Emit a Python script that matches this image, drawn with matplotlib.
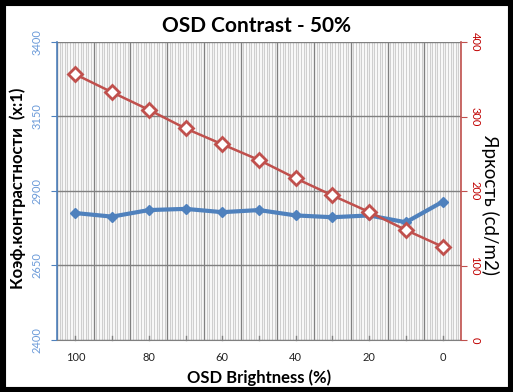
import matplotlib
matplotlib.use("Agg")
import matplotlib.pyplot as plt
from matplotlib.patches import Rectangle
from matplotlib.ticker import MultipleLocator
import numpy as np

plt.rcParams['font.family'] = ['Lato', 'DejaVu Sans']

brightness = [100, 90, 80, 70, 60, 50, 40, 30, 20, 10, 0]
contrast = [2826, 2814, 2836, 2840, 2829, 2836, 2818, 2812, 2818, 2795, 2864]
luminance = [356.6, 332.5, 309, 284, 262.7, 241.6, 217, 194, 171.8, 147.6, 125.2]
left_ticks = [2400, 2650, 2900, 3150, 3400]
right_ticks = [0, 100, 200, 300, 400]

BLUE = '#4F81BD'
BLUE_TXT = '#6C9BD9'
RED = '#C0504D'
RED_TXT = '#C00000'

fig = plt.figure(figsize=(5.13, 3.92), dpi=100)
fig.patch.set_facecolor('white')
ax = fig.add_axes([57/513, 1-340/392, (461-57)/513, (340-42)/392])
ax2 = ax.twinx()

x = np.arange(len(brightness))
ax.set_xlim(-0.5, len(brightness)-0.5)

# background pattern: thin vertical stripes
ax.xaxis.set_minor_locator(MultipleLocator(1/14))
ax.grid(which='minor', axis='x', color='#CFCFCF', linewidth=0.9, zorder=0)
ax.set_xticks(np.arange(-0.5, len(brightness), 1), minor=False)
ax.grid(which='major', axis='both', color='#808080', linewidth=1.0, zorder=0.5)
ax.tick_params(axis='x', which='both', length=0, labelbottom=False)

# category labels (every other)
for i, b in enumerate(brightness):
    if i % 2 == 0:
        ax.text(i, -0.06, str(b), transform=ax.get_xaxis_transform(), ha='center', va='center',
                fontsize=8, color='#222222')
    ax.plot([i, i], [0, 0.012], transform=ax.get_xaxis_transform(), color='#808080', lw=1, clip_on=False, zorder=3)

ax.set_ylim(2400, 3400)
ax.set_yticks(left_ticks)
ax.set_yticklabels([str(t) for t in left_ticks], rotation=90, va='center', ha='center',
                   color=BLUE_TXT, fontsize=8)
ax.tick_params(axis='y', length=4, color=BLUE, pad=10.5)

ax2.set_ylim(0, 400)
ax2.set_yticks(right_ticks)
ax2.set_yticklabels([str(t) for t in right_ticks], rotation=-90, va='center', ha='center',
                    color=RED_TXT, fontsize=8)
ax2.tick_params(axis='y', length=4, color=RED, pad=6)

for s in ['top']:
    ax.spines[s].set_visible(False)
    ax2.spines[s].set_visible(False)
ax.spines['left'].set_color(BLUE)
ax.spines['bottom'].set_color('#808080')
ax.spines['right'].set_visible(False)
ax2.spines['left'].set_visible(False)
ax2.spines['bottom'].set_visible(False)
ax2.spines['right'].set_color(RED)
ax2.spines['right'].set_linewidth(1.2)
ax.spines['left'].set_linewidth(1.2)

ax.plot(x, contrast, color=BLUE, lw=3, marker='D', markersize=5, zorder=4)
ax2.plot(x, luminance, color=RED, lw=1.8, marker='D', markersize=7, markerfacecolor='white',
         markeredgecolor=RED, markeredgewidth=2, zorder=4)

fig.text(257/513, 1-26/392, 'OSD Contrast - 50%', ha='center', va='center', fontsize=15, fontweight='bold')
fig.text(259/513, 1-378/392, 'OSD Brightness (%)', ha='center', va='center', fontsize=12, fontweight='bold')
fig.text(18/513, 1-188/392, 'Коэф.контрастности  (x:1)', ha='center', va='center', rotation=90,
         fontsize=12, fontweight='bold')
fig.text(490/513, 1-205/392, 'Яркость (cd/m2)', ha='center', va='center', rotation=-90, fontsize=13.5)

fig.patches.append(Rectangle((0, 0), 1, 1, transform=fig.transFigure, fill=False,
                             edgecolor='black', linewidth=8, zorder=10))

fig.savefig('out.png', dpi=100)
